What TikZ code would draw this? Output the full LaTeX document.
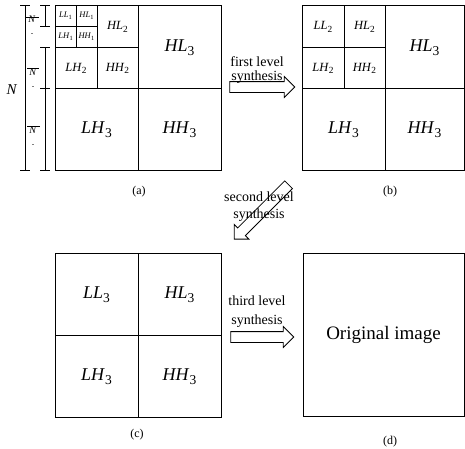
\documentclass[tikz,border=0pt]{standalone}
\usepackage{fontspec}
\setmainfont{Liberation Serif}
\usepackage{graphicx}
\usepackage{tikz}
\usetikzlibrary{shapes.arrows}
\newcommand{\band}[2]{\textit{#1}\raisebox{-0.45ex}{\scalebox{0.75}{#2}}}

\begin{document}
\begin{tikzpicture}[x=1pt,y=-1pt,line width=0.8pt]
  \tikzstyle{bigband}=[font=\fontsize{18}{18}\selectfont]
  \tikzstyle{midband}=[font=\fontsize{12.5}{12.5}\selectfont]
  \tikzstyle{tinyband}=[font=\fontsize{8.5}{8.5}\selectfont,inner sep=0pt]
  \tikzstyle{caplabel}=[font=\fontsize{12}{12}\selectfont]
  \tikzstyle{syn}=[font=\fontsize{14}{14}\selectfont,align=center,inner sep=0pt]
  \tikzstyle{blk}=[draw,single arrow,single arrow head extend=5pt,
    single arrow tip angle=90,inner xsep=0pt,inner ysep=5pt]
  \useasboundingbox (0,0) rectangle (465,448);

  % (a) three level decomposition
  \draw (55,5) rectangle (221,170);
  \draw (138,5) -- (138,170); \draw (55,88) -- (221,88);
  \draw (97,5) -- (97,88); \draw (55,47) -- (138,47);
  \draw (76,5) -- (76,47); \draw (55,26) -- (97,26);
  \node[tinyband] (ll1) at (65.5,15.5) {\band{LL}{1}};
  \node[tinyband] (hl1) at (86.5,15.5) {\band{HL}{1}};
  \node[tinyband] (lh1) at (65.5,36.5) {\band{LH}{1}};
  \node[tinyband] (hh1) at (86.5,36.5) {\band{HH}{1}};
  \node[midband] (hl2a) at (117.5,27) {\band{HL}{2}};
  \node[midband] (lh2a) at (76,68.5) {\band{LH}{2}};
  \node[midband] (hh2a) at (117.5,68.5) {\band{HH}{2}};
  \node[bigband] (hl3a) at (179.5,47.5) {\band{HL}{3}};
  \node[bigband] (lh3a) at (96.5,130) {\band{LH}{3}};
  \node[bigband] (hh3a) at (179.5,130) {\band{HH}{3}};
  \node[caplabel] (capa) at (139,192) {(a)};

  % dimension lines
  \draw (25,5) -- (25,170);
  \draw (20,5) -- (30,5); \draw (20,170) -- (30,170);
  \draw (45,5) -- (45,26); \draw (45,47) -- (45,170);
  \foreach \y in {5,26,47,88,170} \draw (40,\y) -- (50,\y);
  \node[font=\fontsize{15}{15}\selectfont] (nfull) at (12,90) {\textit{N}};
  \node[font=\fontsize{10}{10}\selectfont,inner sep=0pt] (n8) at (32,19) {\textit{N}};
  \node[font=\fontsize{10}{10}\selectfont,inner sep=0pt] (n4) at (33,72) {\textit{N}};
  \node[font=\fontsize{10}{10}\selectfont,inner sep=0pt] (n2) at (33,130) {\textit{N}};
  \draw[line width=0.6pt] (26,17) -- (39,17);
  \draw[line width=0.6pt] (27,68.5) -- (39,68.5);
  \draw[line width=0.6pt] (27,126.5) -- (40,126.5);
  \draw[line width=0.4pt,gray] (31,33) -- (33,33);
  \draw[line width=0.4pt,gray] (32,86) -- (34,86);
  \draw[line width=0.4pt,gray] (32,144) -- (34,144);

  % (b) after first level synthesis
  \draw (302,5) rectangle (464,170);
  \draw (385,5) -- (385,170); \draw (302,88) -- (464,88);
  \draw (344,5) -- (344,88); \draw (302,47) -- (385,47);
  \node[midband] (ll2b) at (323,27) {\band{LL}{2}};
  \node[midband] (hl2b) at (364.5,27) {\band{HL}{2}};
  \node[midband] (lh2b) at (323,68.5) {\band{LH}{2}};
  \node[midband] (hh2b) at (364.5,68.5) {\band{HH}{2}};
  \node[bigband] (hl3b) at (424.5,47.5) {\band{HL}{3}};
  \node[bigband] (lh3b) at (343.5,130) {\band{LH}{3}};
  \node[bigband] (hh3b) at (424.5,130) {\band{HH}{3}};
  \node[caplabel] (capb) at (390,192) {(b)};

  % (c) after second level synthesis
  \draw (55,253) rectangle (221,417);
  \draw (138,253) -- (138,417); \draw (55,335) -- (221,335);
  \node[bigband] (ll3c) at (96.5,295) {\band{LL}{3}};
  \node[bigband] (hl3c) at (179.5,295) {\band{HL}{3}};
  \node[bigband] (lh3c) at (96.5,377) {\band{LH}{3}};
  \node[bigband] (hh3c) at (179.5,377) {\band{HH}{3}};
  \node[caplabel] (capc) at (137,435) {(c)};

  % (d) original image
  \draw (303,253) rectangle (464,416);
  \node[font=\fontsize{19}{19}\selectfont] (orig) at (383.5,334.5) {Original image};
  \node[caplabel] (capd) at (390,442) {(d)};

  % synthesis steps
  \node[syn,font=\fontsize{14}{14}\selectfont] (t1) at (257,70) {first level\\synthesis};
  \node[blk,minimum height=65pt] (arr1) at (259.5,87) {};
  \node[syn,font=\fontsize{14}{17}\selectfont] (t2) at (259,207) {second level\\synthesis};
  \node[blk,minimum height=77pt,rotate=225] (arr2) at (263.3,210) {};
  \node[syn,font=\fontsize{14}{19}\selectfont] (t3) at (257,312) {third level\\synthesis};
  \node[blk,minimum height=63pt] (arr3) at (259.5,337) {};
\end{tikzpicture}
\end{document}
